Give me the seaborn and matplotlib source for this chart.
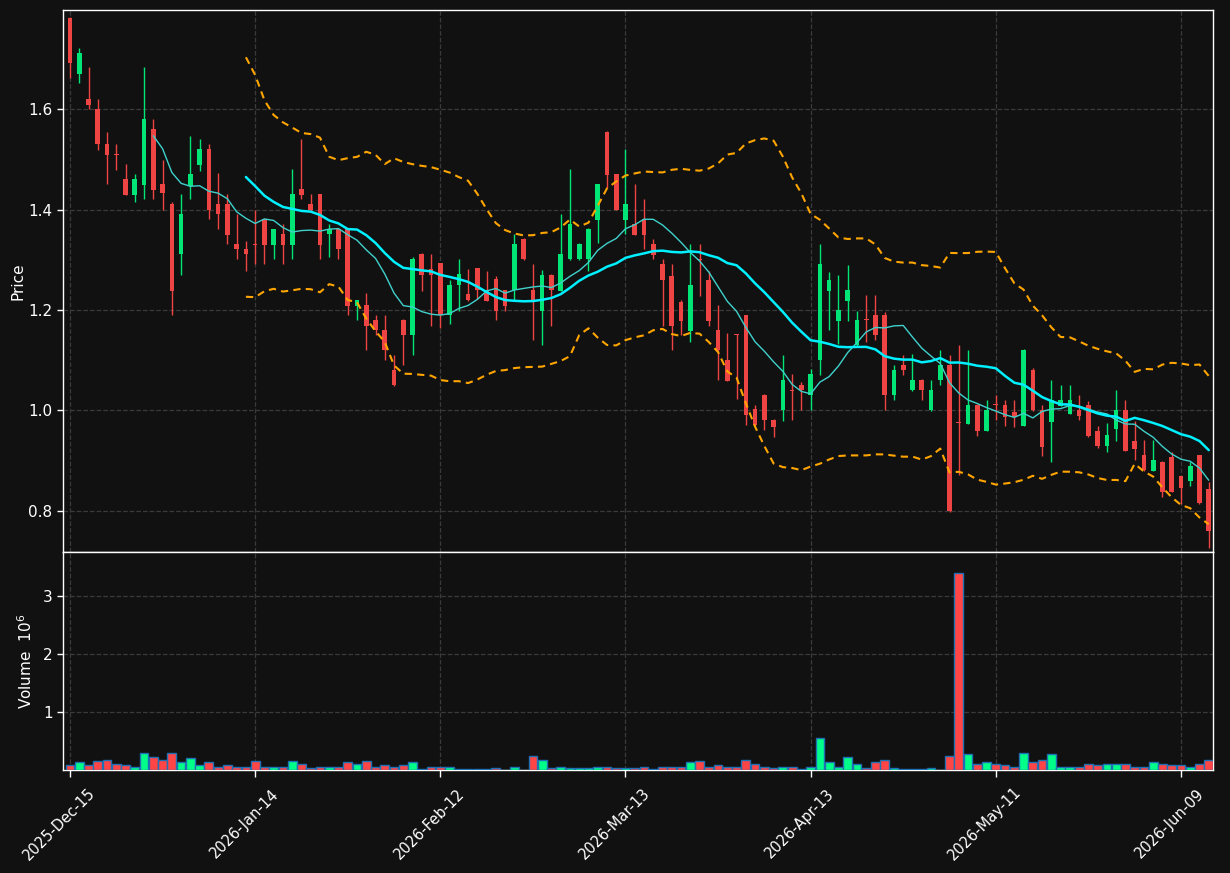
import numpy as np
import pandas as pd
import matplotlib
matplotlib.use("Agg")
import matplotlib.pyplot as plt
import matplotlib.transforms as mtransforms
import seaborn as sns

# OHLC, one value per trading day (124 bars)
opens = [1.782, 1.671, 1.620, 1.600, 1.531, 1.511, 1.461, 1.430, 1.450, 1.561,
         1.451, 1.411, 1.311, 1.448, 1.490, 1.521, 1.411, 1.411, 1.332, 1.322,
         1.332, 1.381, 1.330, 1.351, 1.330, 1.441, 1.411, 1.431, 1.351, 1.361,
         1.361, 1.209, 1.210, 1.181, 1.160, 1.081, 1.181, 1.150, 1.312, 1.281,
         1.293, 1.190, 1.250, 1.233, 1.283, 1.240, 1.261, 1.240, 1.240, 1.342,
         1.240, 1.199, 1.270, 1.239, 1.301, 1.301, 1.301, 1.380, 1.555, 1.471,
         1.380, 1.372, 1.382, 1.331, 1.292, 1.268, 1.217, 1.159, 1.302, 1.260,
         1.161, 1.101, 1.152, 1.190, 1.002, 1.031, 0.981, 1.000, 1.041, 1.051,
         1.031, 1.100, 1.239, 1.179, 1.219, 1.130, 1.182, 1.191, 1.191, 1.030,
         1.091, 1.040, 1.061, 1.000, 1.060, 1.091, 0.977, 0.974, 1.011, 0.960,
         1.012, 1.011, 0.997, 0.970, 1.081, 1.000, 0.978, 1.009, 0.993, 1.001,
         1.011, 0.959, 0.930, 0.963, 1.001, 0.940, 0.911, 0.880, 0.898, 0.908,
         0.869, 0.860, 0.911, 0.843]
highs = [1.785, 1.722, 1.685, 1.620, 1.554, 1.530, 1.491, 1.471, 1.684, 1.580,
         1.500, 1.415, 1.431, 1.546, 1.540, 1.530, 1.473, 1.431, 1.392, 1.338,
         1.400, 1.382, 1.362, 1.371, 1.481, 1.540, 1.431, 1.432, 1.371, 1.362,
         1.363, 1.221, 1.235, 1.190, 1.190, 1.111, 1.182, 1.306, 1.313, 1.312,
         1.294, 1.260, 1.302, 1.281, 1.284, 1.278, 1.267, 1.241, 1.351, 1.343,
         1.292, 1.280, 1.271, 1.392, 1.481, 1.333, 1.363, 1.452, 1.556, 1.472,
         1.521, 1.451, 1.421, 1.341, 1.301, 1.292, 1.220, 1.331, 1.331, 1.278,
         1.210, 1.154, 1.152, 1.191, 1.011, 1.032, 0.984, 1.111, 1.072, 1.056,
         1.082, 1.331, 1.276, 1.270, 1.290, 1.199, 1.230, 1.230, 1.196, 1.091,
         1.111, 1.113, 1.062, 1.061, 1.121, 1.111, 1.131, 1.121, 1.012, 1.021,
         1.031, 1.021, 1.021, 1.122, 1.085, 1.010, 1.061, 1.050, 1.050, 1.030,
         1.019, 0.969, 0.976, 1.040, 1.020, 0.979, 0.941, 0.941, 0.899, 0.918,
         0.870, 0.898, 0.912, 0.857]
lows = [1.662, 1.652, 1.600, 1.520, 1.451, 1.480, 1.430, 1.415, 1.421, 1.421,
        1.400, 1.191, 1.270, 1.421, 1.477, 1.381, 1.361, 1.331, 1.301, 1.277,
        1.291, 1.291, 1.301, 1.291, 1.301, 1.421, 1.398, 1.301, 1.305, 1.301,
        1.191, 1.180, 1.120, 1.150, 1.100, 1.049, 1.090, 1.111, 1.239, 1.169,
        1.164, 1.172, 1.199, 1.219, 1.222, 1.218, 1.180, 1.199, 1.220, 1.300,
        1.140, 1.130, 1.169, 1.238, 1.300, 1.300, 1.278, 1.333, 1.443, 1.399,
        1.351, 1.349, 1.321, 1.301, 1.169, 1.120, 1.150, 1.136, 1.229, 1.169,
        1.061, 1.058, 1.022, 0.971, 0.970, 0.962, 0.948, 0.979, 0.982, 1.001,
        1.001, 1.070, 1.161, 1.133, 1.179, 1.129, 1.136, 1.140, 1.001, 1.020,
        1.071, 1.039, 1.021, 0.999, 1.050, 0.797, 0.871, 0.973, 0.950, 0.959,
        0.982, 0.970, 0.968, 0.969, 0.999, 0.909, 0.898, 1.008, 0.992, 0.981,
        0.948, 0.926, 0.918, 0.940, 0.919, 0.901, 0.880, 0.879, 0.828, 0.837,
        0.814, 0.850, 0.814, 0.725]
closes = [1.692, 1.712, 1.609, 1.530, 1.510, 1.509, 1.430, 1.461, 1.581, 1.440,
          1.434, 1.239, 1.392, 1.471, 1.521, 1.400, 1.391, 1.350, 1.321, 1.311,
          1.330, 1.330, 1.361, 1.330, 1.431, 1.430, 1.400, 1.330, 1.361, 1.321,
          1.209, 1.220, 1.169, 1.160, 1.120, 1.050, 1.150, 1.302, 1.269, 1.270,
          1.190, 1.251, 1.271, 1.220, 1.240, 1.219, 1.199, 1.209, 1.332, 1.301,
          1.219, 1.270, 1.240, 1.312, 1.372, 1.332, 1.362, 1.451, 1.470, 1.400,
          1.412, 1.350, 1.350, 1.310, 1.259, 1.169, 1.179, 1.250, 1.300, 1.179,
          1.120, 1.059, 1.150, 0.990, 0.972, 0.981, 0.968, 1.061, 1.039, 1.040,
          1.072, 1.292, 1.260, 1.200, 1.240, 1.181, 1.180, 1.150, 1.030, 1.081,
          1.080, 1.061, 1.040, 1.041, 1.091, 0.799, 0.975, 1.011, 0.960, 1.000,
          1.010, 0.988, 0.988, 1.121, 1.000, 0.928, 1.021, 1.021, 1.021, 0.989,
          0.949, 0.930, 0.951, 1.001, 0.920, 0.923, 0.881, 0.901, 0.838, 0.838,
          0.846, 0.889, 0.815, 0.759]
# volume in millions
volume_m = [0.08, 0.13, 0.08, 0.15, 0.17, 0.10, 0.08, 0.05, 0.30, 0.22,
            0.17, 0.30, 0.13, 0.20, 0.08, 0.13, 0.05, 0.08, 0.06, 0.05,
            0.15, 0.06, 0.05, 0.05, 0.15, 0.11, 0.03, 0.05, 0.06, 0.05,
            0.13, 0.11, 0.15, 0.06, 0.08, 0.05, 0.08, 0.13, 0.01, 0.06,
            0.05, 0.05, 0.01, 0.01, 0.01, 0.01, 0.03, 0.005, 0.06, 0.005,
            0.24, 0.17, 0.03, 0.05, 0.03, 0.03, 0.03, 0.06, 0.05, 0.03,
            0.03, 0.03, 0.06, 0.01, 0.05, 0.06, 0.05, 0.13, 0.15, 0.06,
            0.08, 0.05, 0.06, 0.17, 0.10, 0.05, 0.03, 0.06, 0.05, 0.01,
            0.05, 0.56, 0.13, 0.05, 0.22, 0.10, 0.03, 0.13, 0.18, 0.03,
            0.02, 0.02, 0.02, 0.03, 0.005, 0.25, 3.39, 0.27, 0.10, 0.13,
            0.10, 0.08, 0.06, 0.29, 0.13, 0.17, 0.27, 0.06, 0.05, 0.06,
            0.10, 0.08, 0.10, 0.11, 0.11, 0.06, 0.06, 0.13, 0.11, 0.08,
            0.08, 0.05, 0.11, 0.17]
tick_pos = [0, 20, 40, 60, 80, 100, 120]
tick_labels = ["2025-Dec-15", "2026-Jan-14", "2026-Feb-12", "2026-Mar-13",
               "2026-Apr-13", "2026-May-11", "2026-Jun-09"]

df = pd.DataFrame({"open": opens, "high": highs, "low": lows,
                   "close": closes, "volume": volume_m})
df["idx"] = np.arange(len(df))
df["ma10"] = df["close"].rolling(10).mean()
df["ma20"] = df["close"].rolling(20).mean()
sd = df["close"].rolling(20).std(ddof=0)
df["bb_up"] = df["ma20"] + 2 * sd
df["bb_lo"] = df["ma20"] - 2 * sd

BG = "#111111"
UP, DOWN = "#00e676", "#ef4444"
VUP, VDOWN = "#00ff88", "#ff4545"

sns.set_theme(style="dark", rc={
    "figure.facecolor": BG, "axes.facecolor": BG, "axes.edgecolor": "white",
    "axes.labelcolor": "white", "text.color": "white",
    "xtick.color": "white", "ytick.color": "white",
    "grid.color": "#3a3a3a", "grid.linestyle": "--", "grid.linewidth": 0.9,
    "axes.grid": True, "xtick.bottom": True, "ytick.left": True,
})
plt.rcParams["font.family"] = ["DejaVu Sans"]

fig = plt.figure(figsize=(12.3, 8.73), dpi=100)
ax = fig.add_axes([63 / 1230, 1 - 552 / 873, 1150 / 1230, 542 / 873])
axv = fig.add_axes([63 / 1230, 1 - 770 / 873, 1150 / 1230, 218 / 873], sharex=ax)

up = df["close"] >= df["open"]
cols = np.where(up, UP, DOWN)
body = (df["close"] - df["open"]).abs().clip(lower=0.002)
bottom = df[["open", "close"]].min(axis=1)

ax.vlines(df["idx"], df["low"], df["high"], colors=cols, lw=1.0, zorder=2)
ax.bar(df["idx"], body, bottom=bottom, width=0.5, color=cols, lw=0, zorder=3)

sns.lineplot(data=df, x="idx", y="ma10", ax=ax, color="#3fd1cc", lw=1.0, zorder=4)
sns.lineplot(data=df, x="idx", y="ma20", ax=ax, color="#00f0ff", lw=1.8, zorder=5)
for c in ["bb_up", "bb_lo"]:
    sns.lineplot(data=df, x="idx", y=c, ax=ax, color="#ffa500", lw=1.5,
                 linestyle=(0, (3.5, 2.5)), zorder=4)

vcols = np.where(up, VUP, VDOWN)
axv.bar(df["idx"], df["volume"], width=0.95, color=vcols,
        edgecolor="#1f6fb4", lw=1.0, zorder=3)

for a in (ax, axv):
    a.grid(True, which="major", axis="both")
    a.tick_params(axis="y", labelsize=11, length=4, width=1, color="white")
    for s in a.spines.values():
        s.set_color("white")
        s.set_linewidth(1.0)
axv.tick_params(axis="x", length=5, width=1, color="white")
ax.tick_params(axis="x", labelbottom=False, length=0)

ax.set_xlim(-0.756, 123.46)
ax.set_ylim(0.718, 1.798)
ax.set_yticks([0.8, 1.0, 1.2, 1.4, 1.6])
ax.set_yticklabels(["0.8", "1.0", "1.2", "1.4", "1.6"])
ax.set_ylabel("Price", fontsize=11)
ax.set_xlabel("")

axv.set_ylim(0, 3.76)
axv.set_yticks([1, 2, 3])
axv.set_yticklabels(["1", "2", "3"])
axv.set_ylabel("Volume  $10^6$", fontsize=11)
axv.set_xlabel("")
axv.set_xticks(tick_pos)
axv.set_xticklabels(tick_labels, rotation=45, ha="center", va="center",
                    rotation_mode="anchor", fontsize=10.5)
shift = mtransforms.ScaledTranslation(-0.11, -0.42, fig.dpi_scale_trans)
for lab in axv.get_xticklabels():
    lab.set_transform(lab.get_transform() + shift)

ax.yaxis.set_label_coords(-0.033, 0.5)
axv.yaxis.set_label_coords(-0.024, 0.5)

fig.savefig("out.png", dpi=100, facecolor=BG)
